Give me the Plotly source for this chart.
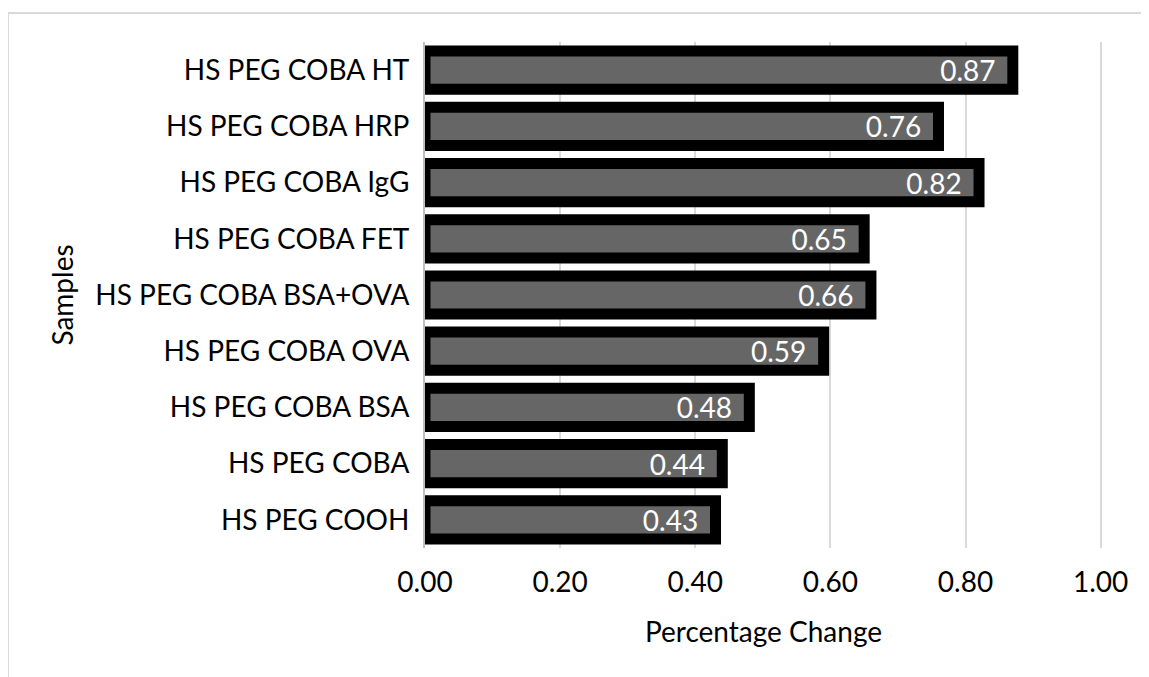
import plotly.graph_objects as go

samples = [
    "HS PEG COOH",
    "HS PEG COBA",
    "HS PEG COBA BSA",
    "HS PEG COBA OVA",
    "HS PEG COBA BSA+OVA",
    "HS PEG COBA FET",
    "HS PEG COBA IgG",
    "HS PEG COBA HRP",
    "HS PEG COBA HT",
]
pct_change = [0.43, 0.44, 0.48, 0.59, 0.66, 0.65, 0.82, 0.76, 0.87]
x_ticks = [0.0, 0.2, 0.4, 0.6, 0.8, 1.0]

W, H = 1149, 677
L, R, T, B = 417, 55, 34, 137
FONT = "Lato, 'Open Sans', sans-serif"
GRID = "#d9d9d9"
FS = 28

fig = go.Figure()
fig.add_trace(go.Bar(
    x=pct_change, y=samples, orientation="h",
    marker=dict(color="#666666", line=dict(color="black", width=11)),
    text=[f"{v:.2f}\u00a0\u00a0" for v in pct_change],
    textposition="inside", insidetextanchor="end", constraintext="none",
    textfont=dict(color="white", size=FS, family=FONT),
    cliponaxis=False,
))

# outer chart border, in paper units
pw, ph = W - L - R, H - T - B
fig.add_shape(
    type="rect", xref="paper", yref="paper", layer="below",
    x0=-L / pw, x1=(W + 20 - L) / pw,
    y0=-(H + 20 - T - ph) / ph, y1=1 + (T - 5) / ph,
    line=dict(color="#d9d9d9", width=2),
)

fig.update_layout(
    width=W, height=H,
    paper_bgcolor="white", plot_bgcolor="white",
    margin=dict(l=L, r=R, t=T, b=B),
    font=dict(family=FONT, color="black", size=FS),
    bargap=0.32,
    showlegend=False,
    xaxis=dict(
        range=[0, 1.002], tickvals=x_ticks, tickformat=".2f",
        showgrid=True, gridcolor=GRID, gridwidth=1.5,
        zeroline=False, showline=False, ticks="",
        tickfont=dict(size=FS), ticklabelstandoff=15,
        title=dict(text="Percentage Change", font=dict(size=FS), standoff=25),
    ),
    yaxis=dict(
        showline=True, linecolor="#bfbfbf", linewidth=2,
        showgrid=False, ticks="", ticklabelstandoff=8,
        tickfont=dict(size=FS),
        title=dict(text="Samples", font=dict(size=FS), standoff=14),
    ),
)

fig.write_html("out.html")
